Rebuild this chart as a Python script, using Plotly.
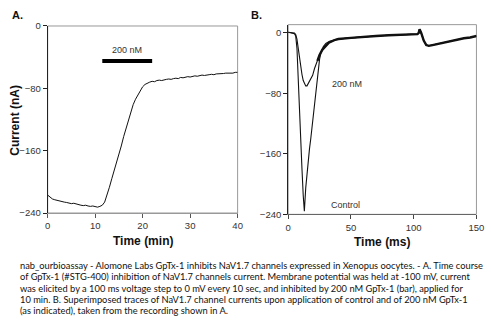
import plotly.graph_objects as go

# Panel A: time course of peak current (nA) vs time (min)
time_min = [0, 0.5, 1, 1.5, 2, 2.5, 3, 3.5, 4, 4.5, 5, 5.5, 6, 6.5, 7, 7.5, 8, 8.5, 9, 9.5,
            10, 10.5, 11, 11.5, 12, 12.5, 13, 13.5, 14, 14.5, 15, 15.5, 16, 16.5, 17, 17.5,
            18, 18.5, 19, 19.5, 20, 20.5, 21, 21.5, 22, 22.5, 23, 23.5, 24, 24.5, 25, 25.5,
            26, 26.5, 27, 27.5, 28, 28.5, 29, 29.5, 30, 30.5, 31, 31.5, 32, 32.5, 33, 33.5,
            34, 34.5, 35, 35.5, 36, 36.5, 37, 37.5, 38, 38.5, 39, 39.5, 40]
current_na = [-217, -220, -222, -223, -224, -225, -225.5, -226, -226.5, -227, -228, -227.5,
              -228.5, -229, -230, -230.5, -230, -231, -231.5, -231, -232, -232.5, -231.5, -230,
              -226, -217, -207, -196, -186, -176, -165, -154, -142, -131, -120, -110, -101,
              -94, -88, -83, -78, -75, -73, -72, -71, -71.5, -70, -69.5, -70, -69, -68.5, -68,
              -68.5, -67.5, -67, -67.5, -66, -66.5, -65.5, -65, -65.5, -64.5, -64, -64.5, -63.5,
              -63, -63.5, -62.5, -62.5, -62, -62.5, -61.5, -61.5, -61, -61, -60.5, -60.5, -60,
              -60.5, -59.5, -59.5]

# Toxin application bar (min) and its level on the current axis
bar_start, bar_end, bar_level = 11.5, 22, -45
bar_label = "200 nM"

# Panel B: superimposed current traces (nA) vs time (ms)
ctrl_t = [0, 2, 4, 5, 6, 7, 8, 9, 10, 11, 12, 12.9, 14, 15, 16, 17, 18, 19, 20, 21, 22, 23,
          24, 25, 26, 28, 30, 33, 37, 40, 50, 60, 70, 80, 90, 100, 103, 104, 104.7, 106, 108,
          110, 112, 115, 120, 125, 130, 135, 140, 145, 150]
ctrl_i = [1, 0.5, 0, -1, -4, -20, -60, -108, -145, -180, -215, -236, -205, -185, -168, -153,
          -140, -125, -108, -92, -76, -60, -46, -35, -27, -18, -14, -11, -9, -8, -6.5, -5, -4,
          -3, -2, -1.5, -1.5, 0, 5, 0, -10, -16, -17, -16, -14, -12, -10, -9, -7, -6, -4]
toxin_t = [0, 3, 5, 6, 7, 8, 9, 10, 11, 12, 13, 14, 15, 16, 17, 18, 19.5, 21, 23.3, 25, 27.3,
           30, 32.4, 37.6, 40, 50, 60, 70, 80, 90, 100, 103, 104, 104.7, 106, 108, 110, 112,
           115, 120, 125, 130, 135, 140, 145, 150]
toxin_i = [1, 0.5, 0, -2, -8, -20, -33, -45, -55, -63, -68, -70, -70, -67, -63, -60, -56, -47,
           -37, -29, -22, -17, -13, -9, -8, -6.5, -5, -4, -3, -2, -1.5, -1.5, 0, 5, 0, -10, -16,
           -17, -16, -14, -12, -10, -9, -7, -6, -4]

y_ticks = [0, -80, -160, -240]
a_x_ticks = [0, 10, 20, 30, 40]
b_x_ticks = [0, 50, 100, 150]

caption_lines = [
    "nab_ourbioassay - Alomone Labs GpTx-1 inhibits NaV1.7 channels expressed in Xenopus oocytes. - A. Time course",
    "of GpTx-1 (#STG-400) inhibition of NaV1.7 channels current. Membrane potential was held at -100 mV, current",
    "was elicited by a 100 ms voltage step to 0 mV every 10 sec, and inhibited by 200 nM GpTx-1 (bar), applied for",
    "10 min. B. Superimposed traces of NaV1.7 channel currents upon application of control and of 200 nM GpTx-1",
    "(as indicated), taken from the recording shown in A.",
]

W, H = 491, 323
tick_font = dict(family="Liberation Sans Narrow, Arial Narrow, Liberation Sans, Arial",
                 size=9.5, color="#333")
title_font = dict(family="Liberation Sans, Arial", size=12, color="#111")

fig = go.Figure()

fig.add_trace(go.Scatter(x=time_min, y=current_na, mode="lines",
                         line=dict(color="#111", width=1), xaxis="x", yaxis="y"))
fig.add_trace(go.Scatter(x=[bar_start, bar_end], y=[bar_level, bar_level], mode="lines",
                         line=dict(color="#000", width=4), xaxis="x", yaxis="y"))
fig.add_trace(go.Scatter(x=ctrl_t, y=ctrl_i, mode="lines",
                         line=dict(color="#111", width=1.1), xaxis="x2", yaxis="y2"))
fig.add_trace(go.Scatter(x=toxin_t, y=toxin_i, mode="lines",
                         line=dict(color="#111", width=1.1), xaxis="x2", yaxis="y2"))
# The slow tail of the recording is noisy, so it reads as a heavier line
tail = [i for i, t in enumerate(toxin_t) if t >= 23.3]
fig.add_trace(go.Scatter(x=[toxin_t[i] for i in tail], y=[toxin_i[i] for i in tail],
                         mode="lines", line=dict(color="#111", width=2.4),
                         xaxis="x2", yaxis="y2"))


def px_x(p):
    return p / W


def px_y(p):
    return 1 - p / H


axis_common = dict(showgrid=False, zeroline=False, showline=True, ticks="outside",
                   ticklen=4, tickwidth=1, tickfont=tick_font)

fig.update_layout(
    width=W, height=H, margin=dict(l=0, r=0, t=0, b=0),
    paper_bgcolor="white", plot_bgcolor="white", showlegend=False,
    xaxis=dict(domain=[px_x(45.7), px_x(240)], range=[0, 40], tickvals=a_x_ticks,
               linecolor="#999", tickcolor="#555", anchor="y", **axis_common),
    yaxis=dict(domain=[px_y(214.3), px_y(20.7)], range=[-240, 0], tickvals=y_ticks,
               linecolor="#222", tickcolor="#222", anchor="x", **axis_common),
    xaxis2=dict(domain=[px_x(291.7), px_x(484.3)], range=[0, 150], tickvals=b_x_ticks,
                linecolor="#666", tickcolor="#444", anchor="y2", **axis_common),
    yaxis2=dict(domain=[px_y(215.7), px_y(19.3)], range=[-240, 11], tickvals=y_ticks,
                linecolor="#222", tickcolor="#222", anchor="x2", **axis_common),
)

# Light frame around each panel
for xr, yr in (("x domain", "y domain"), ("x2 domain", "y2 domain")):
    fig.add_shape(type="rect", xref=xr, yref=yr, x0=0, x1=1, y0=0, y1=1,
                  line=dict(color="#999", width=1), layer="below")

ann = []
ann.append(dict(text="<b>A.</b>", x=px_x(7), y=px_y(9), xanchor="left", yanchor="middle",
                font=dict(family="Liberation Sans, Arial", size=11, color="#111")))
ann.append(dict(text="<b>B.</b>", x=px_x(252), y=px_y(9), xanchor="left", yanchor="middle",
                font=dict(family="Liberation Sans, Arial", size=11, color="#111")))
ann.append(dict(text="<b>Current (nA)</b>", x=px_x(12), y=px_y(118), textangle=-90,
                xanchor="center", yanchor="middle", font=title_font))
ann.append(dict(text="<b>Time (min)</b>", x=px_x(143), y=px_y(243), xanchor="center",
                yanchor="middle", font=title_font))
ann.append(dict(text="<b>Time (ms)</b>", x=px_x(388), y=px_y(244), xanchor="center",
                yanchor="middle", font=title_font))
for a in ann:
    a.update(xref="paper", yref="paper", showarrow=False)

label_font = dict(tick_font, size=9)
fig.add_annotation(text=bar_label, x=(bar_start + bar_end) / 2, y=bar_level, yshift=11,
                   xref="x", yref="y", showarrow=False, font=label_font)
fig.add_annotation(text="200 nM", x=46.5, y=-68, xref="x2", yref="y2", showarrow=False,
                   font=label_font)
fig.add_annotation(text="Control", x=46, y=-227, xref="x2", yref="y2", showarrow=False,
                   font=label_font)

for a in ann:
    fig.add_annotation(**a)

cap_font = dict(family="Lato, Open Sans, sans-serif", size=9.3, color="#111")
for i, line in enumerate(caption_lines):
    fig.add_annotation(text=line, x=px_x(15), y=px_y(269 + i * 11.5), xref="paper",
                       yref="paper", xanchor="left", yanchor="middle", showarrow=False,
                       font=cap_font)

fig.write_html("out.html")
